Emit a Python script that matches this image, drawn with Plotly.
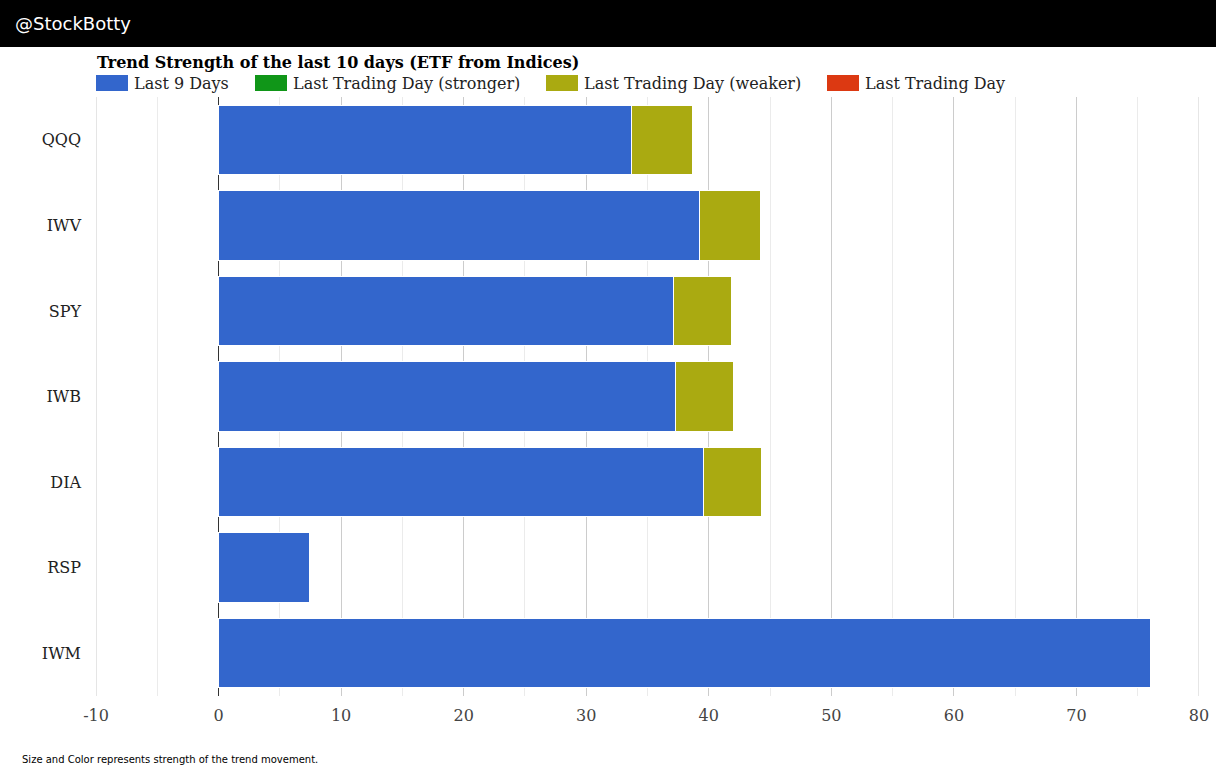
import plotly.graph_objects as go

# ---- data ----
categories = ["QQQ", "IWV", "SPY", "IWB", "DIA", "RSP", "IWM"]
last_9_days = [33.7, 39.27, 37.14, 37.31, 39.59, 7.43, 76.08]
last_day_stronger = [0, 0, 0, 0, 0, 0, 0]
last_day_weaker = [4.98, 4.97, 4.74, 4.73, 4.74, 0.08, 0]
last_day = [0, 0, 0, 0, 0, 0, 0]

series_names = ["Last 9 Days", "Last Trading Day (stronger)",
                "Last Trading Day (weaker)", "Last Trading Day"]
series_values = [last_9_days, last_day_stronger, last_day_weaker, last_day]
series_colors = ["#3366cc", "#109618", "#aaaa11", "#dc3912"]

x_tick_vals = [-10, 0, 10, 20, 30, 40, 50, 60, 70, 80]
x_tick_text = ["-10", "0", "10", "20", "30", "40", "50", "60", "70", "80"]
x_range = [-10, 80]

title_text = "Trend Strength of the last 10 days (ETF from Indices)"
header_text = "@StockBotty"
footer_text = "Size and Color represents strength of the trend movement."

# ---- layout geometry ----
W, H = 1216, 769
L, R, T, B = 96, 17, 97, 73
PW, PH = W - L - R, H - T - B


def px_x(x):
    return (x - L) / PW


def px_y(y):
    return (H - B - y) / PH


SERIF = "DejaVu Serif"
SANS = "DejaVu Sans"

fig = go.Figure()
for name, vals, col in zip(series_names, series_values, series_colors):
    fig.add_trace(go.Bar(
        y=categories, x=vals, name=name, orientation="h",
        marker=dict(color=col, line=dict(color="white", width=1)),
        showlegend=False, hoverinfo="x+y",
    ))

shapes = []
annotations = []

# edge gridlines at the ends of the axis range
for xv in (x_range[0], x_range[1]):
    shapes.append(dict(type="line", xref="x", yref="paper", x0=xv, x1=xv, y0=0, y1=1,
                       line=dict(color="#cccccc", width=1), layer="below"))

# header band
shapes.append(dict(type="rect", xref="paper", yref="paper",
                   x0=px_x(0), x1=px_x(W + 10), y0=px_y(0), y1=px_y(47),
                   fillcolor="black", line=dict(width=0), layer="above"))
annotations.append(dict(text=header_text, xref="paper", yref="paper",
                        x=px_x(13), y=px_y(23), xanchor="left", yanchor="middle",
                        showarrow=False, font=dict(family=SANS, size=18, color="white")))

# title
annotations.append(dict(text="<b>" + title_text + "</b>", xref="paper", yref="paper",
                        x=px_x(95), y=px_y(62), xanchor="left", yanchor="middle",
                        showarrow=False, font=dict(family=SERIF, size=16, color="#000")))

# manual legend
legend_x = [96, 255, 546, 827]
for lx, name, col in zip(legend_x, series_names, series_colors):
    shapes.append(dict(type="rect", xref="paper", yref="paper",
                       x0=px_x(lx), x1=px_x(lx + 32), y0=px_y(75), y1=px_y(91),
                       fillcolor=col, line=dict(width=0)))
    annotations.append(dict(text=name, xref="paper", yref="paper",
                            x=px_x(lx + 36), y=px_y(83), xanchor="left", yanchor="middle",
                            showarrow=False, font=dict(family=SERIF, size=16, color="#222")))

# footer
annotations.append(dict(text=footer_text, xref="paper", yref="paper",
                        x=px_x(20), y=px_y(759), xanchor="left", yanchor="middle",
                        showarrow=False, font=dict(family=SANS, size=10, color="#000")))

EXTRA = 6  # compensates the narrower page the browser gives the figure
fig.update_layout(
    width=W + EXTRA, height=H, autosize=False,
    margin=dict(l=L, r=R + EXTRA, t=T, b=B, pad=0),
    barmode="stack", bargap=0.19,
    plot_bgcolor="white", paper_bgcolor="white",
    shapes=shapes, annotations=annotations,
    showlegend=False,
    xaxis=dict(range=x_range, tickvals=x_tick_vals, ticktext=x_tick_text, showgrid=True,
               gridcolor="#cccccc", gridwidth=1,
               minor=dict(dtick=5, tick0=0, showgrid=True, gridcolor="#ebebeb", gridwidth=1),
               zeroline=True, zerolinecolor="#333333", zerolinewidth=1,
               showline=False, ticks="", ticklabelstandoff=8,
               tickfont=dict(family=SERIF, size=16, color="#444")),
    yaxis=dict(autorange="reversed", showgrid=False, zeroline=False, showline=False,
               ticks="", ticklabelstandoff=14,
               tickfont=dict(family=SERIF, size=16, color="#222")),
    font=dict(family=SERIF),
)

fig.write_html("out.html",
               config={"responsive": False, "displayModeBar": False},
               post_script=("document.documentElement.style.overflow='hidden';"
                            "document.documentElement.style.margin='0';"
                            "document.body.style.margin='0';"
                            "document.body.style.padding='0';"
                            "document.body.style.overflow='hidden';"))
